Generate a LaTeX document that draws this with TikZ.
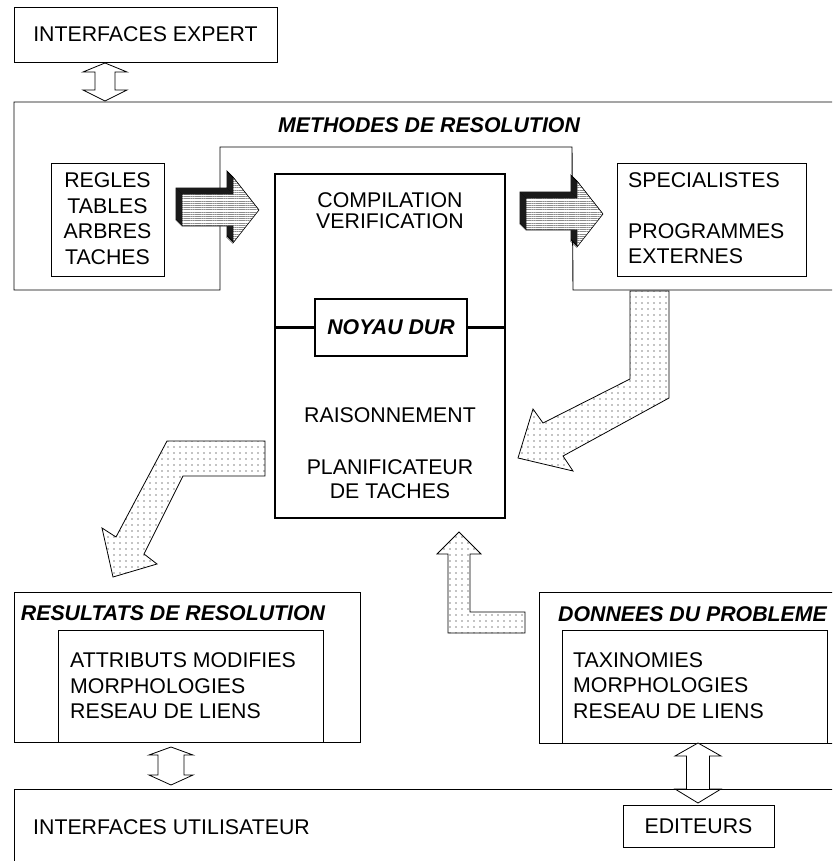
\documentclass[tikz,border=0pt]{standalone}
\usepackage{fontspec}
\setmainfont{Liberation Sans}
\usetikzlibrary{patterns.meta}
\newcommand\fsz{\fontsize{21.3pt}{25.5pt}\selectfont}
\newcommand\fszt{\fontsize{21.3pt}{21pt}\selectfont}
\newcommand\dblarr[7]{\draw[hollowarrow] (#1,#2) -- (#1+#6,#3) -- (#1+#7,#3) -- (#1+#7,#4) -- (#1+#6,#4) -- (#1,#5) -- (#1-#6,#4) -- (#1-#7,#4) -- (#1-#7,#3) -- (#1-#6,#3) -- cycle;}
\begin{document}
\begin{tikzpicture}[x=1pt,y=-1pt,
  box/.style={draw, line width=0.9pt, inner sep=0pt, outer sep=0pt, font=\fsz, align=center},
  txt/.style={inner sep=0pt, font=\fsz, align=left},
  ttl/.style={inner sep=0pt, font=\fsz\bfseries\itshape},
  hollowarrow/.style={draw, line width=0.8pt, fill=white},
  dotarrow/.style={draw, line width=0.8pt, preaction={fill=white}, pattern={Dots[distance=6pt,radius=0.6pt]}, pattern color=black},
  shadeface/.style={draw, line width=0.6pt, preaction={fill=white}, pattern={Lines[angle=0,distance=2.2pt,line width=0.7pt]}, pattern color=gray!90},
  shadeside/.style={draw=black, line width=0.6pt, fill=gray!50!black}
]
\useasboundingbox (0,0) rectangle (832,861);
\clip (0,0) rectangle (832,861);

% INTERFACES EXPERT
\node[box, minimum width=263pt, minimum height=55pt] (expert) at (145.5,34.5) {INTERFACES EXPERT};
\dblarr{105}{63}{72}{90}{101}{22}{10}

% METHODES DE RESOLUTION frame
\coordinate (m1) at (14,102);
\coordinate (m2) at (850,102);
\coordinate (m3) at (850,290);
\coordinate (m4) at (573,290);
\coordinate (m5) at (572,147);
\coordinate (m6) at (220,147);
\coordinate (m7) at (220,290);
\coordinate (m8) at (14,290);
\draw[line width=0.9pt] (m1) -- (m2) -- (m3) -- (m4) -- (m5) -- (m6) -- (m7) -- (m8) -- cycle;
\node[ttl] (methtitle) at (429,125) {METHODES DE RESOLUTION};

\node[box, minimum width=113pt, minimum height=113pt] (regles) at (107.5,219.5) {};
\node[txt, align=center] (reglestxt) at (107.5,218.5) {REGLES\\TABLES\\ARBRES\\TACHES};

\node[box, minimum width=189pt, minimum height=113pt] (spec) at (711.5,219.5) {};
\node[txt, anchor=west] (spectxt) at (628,218) {SPECIALISTES\\[25.5pt]PROGRAMMES\\EXTERNES};

% central box
\node[box, line width=2.6pt, minimum width=230pt, minimum height=344pt] (core) at (390,346) {};
\node[txt, align=center, font=\fszt] (comp) at (390,211) {COMPILATION\\VERIFICATION};
\node[box, line width=2.6pt, minimum width=152pt, minimum height=57pt, font=\fsz\bfseries\itshape] (noyau) at (391,327.5) {NOYAU DUR};
\draw[line width=2.6pt] (core.west |- noyau.west) -- (noyau.west);
\draw[line width=2.6pt] (noyau.east) -- (core.east |- noyau.east);
\node[txt, align=center] (rais) at (390,415) {RAISONNEMENT};
\node[txt, align=center, font={\fontsize{21.3pt}{24pt}\selectfont}] (plan) at (390,479) {PLANIFICATEUR\\DE TACHES};

% 3D shaded arrows
\foreach \s/\t in {0/0, 344/4}{
  \begin{scope}[shift={(\s,\t)}]
    \foreach \i in {6,5,4,3,2,1}{
      \path[shadeside, shift={(-\i,-\i)}] (182,194) -- (233,194) -- (233,177) -- (259,210) -- (233,243) -- (233,226) -- (182,226) -- cycle;
    }
    \path[shadeface] (182,194) -- (233,194) -- (233,177) -- (259,210) -- (233,243) -- (233,226) -- (182,226) -- cycle;
  \end{scope}
}

% dotted arrows
\path[dotarrow] (630,291) -- (669,291) -- (669,398) -- (563,456) -- (573,471) -- (518,458) -- (533,409) -- (543,423) -- (630,379) -- cycle;
\path[dotarrow] (265,441) -- (265,476) -- (183,476) -- (144,554) -- (157,564) -- (113,577) -- (102,528) -- (116,537) -- (167,441) -- cycle;
\path[dotarrow] (459,532) -- (481,554) -- (470,554) -- (470,612) -- (525,612) -- (525,633) -- (448,633) -- (448,554) -- (437,554) -- cycle;

% RESULTATS DE RESOLUTION
\node[box, minimum width=346pt, minimum height=150pt] (resout) at (187,667) {};
\node[ttl] (restitle) at (173,613) {RESULTATS DE RESOLUTION};
\node[box, minimum width=265pt, minimum height=112pt] (resin) at (190.5,686) {};
\node[txt, anchor=west] (restxt) at (70,686) {ATTRIBUTS MODIFIES\\MORPHOLOGIES\\RESEAU DE LIENS};

% DONNEES DU PROBLEME
\node[box, minimum width=311pt, minimum height=151pt] (donout) at (694.5,667.5) {};
\node[ttl] (dontitle) at (692.5,614) {DONNEES DU PROBLEME};
\node[box, minimum width=265pt, minimum height=113pt] (donin) at (694.5,686.5) {};
\node[txt, anchor=west] (dontxt) at (573,685.5) {TAXINOMIES\\MORPHOLOGIES\\RESEAU DE LIENS};

% double arrows bottom
\dblarr{171}{747}{755}{775}{785}{22}{13}
\dblarr{698}{743}{756}{789}{803}{23}{11.5}

% INTERFACES UTILISATEUR
\node[box, minimum width=836pt, minimum height=90pt] (util) at (432,834) {};
\node[txt, anchor=west] (utiltxt) at (33,827) {INTERFACES UTILISATEUR};
\node[box, minimum width=151pt, minimum height=42pt, fill=white] (edit) at (698.5,826) {EDITEURS};
\end{tikzpicture}
\end{document}
